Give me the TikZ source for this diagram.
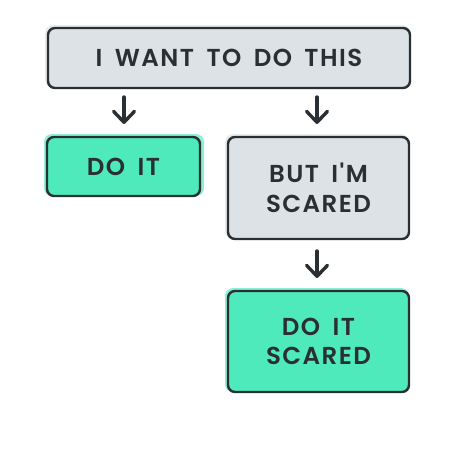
\documentclass[tikz,border=0pt]{standalone}
\usepackage{fontspec}
\newfontfamily\hand{Poppins}[LetterSpace=6, WordSpace=1.7, UprightFont={* SemiBold}]
\usetikzlibrary{arrows.meta}
\definecolor{ink}{HTML}{2A2F33}
\definecolor{greybox}{HTML}{DDE2E6}
\definecolor{greyhalo}{HTML}{E9ECEE}
\definecolor{mint}{HTML}{4EEABB}
\definecolor{minthalo}{HTML}{8DF0D2}
\tikzset{
  box/.style={draw=ink, line width=2.4pt, rounded corners=7pt, inner sep=0pt,
    align=center, text=ink, font=\hand\fontsize{24.5}{29.5}\selectfont},
  grey/.style={box, fill=greybox},
  green/.style={box, fill=mint},
  flow/.style={draw=ink, line width=3.4pt, line cap=round,
    -{Straight Barb[length=11pt,width=21pt,line width=3.4pt,round]}},
}
\begin{document}
\begin{tikzpicture}[x=1pt,y=-1pt]
\useasboundingbox (0,0) rectangle (462,463);
% halos
\fill[greyhalo, rounded corners=8pt] (45,25) rectangle (410,88);
\fill[minthalo, rounded corners=8pt] (44,134) rectangle (204,196);
\fill[greyhalo, rounded corners=8pt] (225,134) rectangle (409,239);
\fill[minthalo, rounded corners=8pt] (225,288) rectangle (409,392);
% boxes
\node[grey, minimum width=362pt, minimum height=60pt] (want) at (229,58) {I WANT TO DO THIS};
\node[green, minimum width=153pt, minimum height=59pt] (doit) at (123.5,166.5) {DO IT};
\node[grey, minimum width=181pt, minimum height=102pt] (scared) at (318.5,188) {BUT I'M\\SCARED};
\node[green, minimum width=181pt, minimum height=101pt] (doscared) at (318.5,341.5) {DO IT\\SCARED};
% arrows
\coordinate (a1s) at (124,97);
\coordinate (a1e) at (124,124);
\coordinate (a2s) at (317,97);
\coordinate (a2e) at (317,124);
\coordinate (a3s) at (317,251);
\coordinate (a3e) at (317,278);
\draw[flow] (a1s) -- (a1e);
\draw[flow] (a2s) -- (a2e);
\draw[flow] (a3s) -- (a3e);
\end{tikzpicture}
\end{document}
